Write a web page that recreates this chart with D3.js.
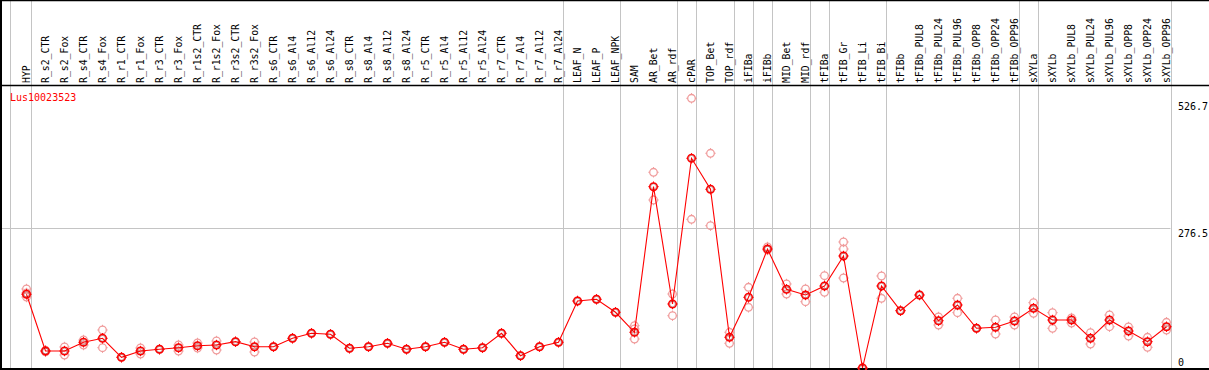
<!DOCTYPE html>
<html>
<head>
<meta charset="utf-8">
<script src="https://cdn.jsdelivr.net/npm/d3@7"></script>
<style>
  html, body { margin: 0; padding: 0; background: #fff; }
  svg { display: block; }
  text { font-family: "DejaVu Sans Mono", monospace; }
</style>
</head>
<body>
<svg id="chart" width="1209" height="370"></svg>
<script>
const title = "Lus10023523";
const categories = ["HYP","R_s2_CTR","R_s2_Fox","R_s4_CTR","R_s4_Fox","R_r1_CTR","R_r1_Fox","R_r3_CTR","R_r3_Fox","R_r1s2_CTR","R_r1s2_Fox","R_r3s2_CTR","R_r3s2_Fox","R_s6_CTR","R_s6_Al4","R_s6_Al12","R_s6_Al24","R_s8_CTR","R_s8_Al4","R_s8_Al12","R_s8_Al24","R_r5_CTR","R_r5_Al4","R_r5_Al12","R_r5_Al24","R_r7_CTR","R_r7_Al4","R_r7_Al12","R_r7_Al24","LEAF_N","LEAF_P","LEAF_NPK","SAM","AR_Bet","AR_rdf","cPAR","TOP_Bet","TOP_rdf","iFIBa","iFIBb","MID_Bet","MID_rdf","tFIBa","tFIB_Gr","tFIB_Li","tFIB_Bi","tFIBb","tFIBb_PUL8","tFIBb_PUL24","tFIBb_PUL96","tFIBb_OPP8","tFIBb_OPP24","tFIBb_OPP96","sXYLa","sXYLb","sXYLb_PUL8","sXYLb_PUL24","sXYLb_PUL96","sXYLb_OPP8","sXYLb_OPP24","sXYLb_OPP96"];
const means = [145.9,33.6,33.6,50.9,58.8,21.2,33.6,37.0,40.2,44.1,45.5,52.1,42.2,42.2,58.8,68.7,66.7,39.0,42.2,48.9,37.0,42.2,50.9,37.0,40.2,68.7,24.3,42.2,50.9,132.6,136.0,110.3,70.7,358.9,126.7,415.1,353.7,60.8,139.9,235.5,155.8,144.5,162.3,221.7,0,162.3,113.4,144.5,93.6,124.7,78.6,80.6,93.0,118.2,95.0,95.0,58.8,95.0,73.2,52.1,81.7];
const replicates = [[156.4,148.5,140.5],[35.0,32.0],[41.6,25.7],[55.4,45.5],[75.2,40.2],[21.2],[39.6,27.7],[37.0],[45.5,33.6],[49.5,39.6],[53.4,35.6],[52.1],[51.5,31.7],[42.2],[58.8],[68.7],[66.7],[39.0],[42.2],[48.9],[37.0],[42.2],[50.9],[37.0],[40.2],[68.7],[24.3],[42.2],[50.9],[132.6],[136.0],[110.3],[83.7,77.2,57.4],[387.4,332.5],[146.5,103.5],[533.8,294.3],[425.0,281.7],[70.7,48.9],[159.7,120.1],[239.5,233.6],[166.3,146.5],[156.4,131.2],[182.7,149.8],[249.4,235.5,178.1],[0],[182.1,138.0],[113.4],[144.5],[101.0,85.1],[138.0,109.5],[78.6],[95.0,67.3],[101.0,85.1],[129.3,108.3],[109.5,78.6],[99.0,89.1],[69.9,47.5],[104.9,81.7],[81.2,63.3],[60.8,41.0],[90.5,75.2]];
const yTicks = [0, 276.5, 526.7];
const separatorsAfter = [0,28,31,34,35,37,38,39,41,42,45,52,53,60];

const W = 1209, H = 370;
const headerBottom = 85.5, plotBottom = 368.5, plotRight = 1170.5;
const svg = d3.select("#chart");

const x = d3.scaleLinear().domain([0, categories.length - 1]).range([26.5, 26.5 + 19 * (categories.length - 1)]);
const y = d3.scaleLinear().domain([0, 526.7]).range([368, 101.9]);

// vertical separators
const sepX = [10.5].concat(separatorsAfter.map(i => Math.round(x(i) + 4) + 0.5));
svg.append("g").selectAll("line").data(sepX).join("line")
  .attr("x1", d => d).attr("x2", d => d).attr("y1", 0).attr("y2", H)
  .attr("stroke", "#c4c4c4").attr("stroke-width", 1);

// horizontal grid line at middle tick
svg.append("line")
  .attr("x1", 0).attr("x2", plotRight).attr("y1", Math.round(y(276.5)) + 0.5).attr("y2", Math.round(y(276.5)) + 0.5)
  .attr("stroke", "#c4c4c4").attr("stroke-width", 1);

// borders
svg.append("line").attr("x1", 0).attr("x2", W).attr("y1", 0.5).attr("y2", 0.5).attr("stroke", "#000").attr("stroke-width", 1.5);
svg.append("line").attr("x1", 0).attr("x2", W).attr("y1", headerBottom).attr("y2", headerBottom).attr("stroke", "#000").attr("stroke-width", 1.5);
svg.append("line").attr("x1", 0).attr("x2", W).attr("y1", plotBottom + 0.5).attr("y2", plotBottom + 0.5).attr("stroke", "#000").attr("stroke-width", 2);
svg.append("line").attr("x1", 1).attr("x2", 1).attr("y1", 0).attr("y2", H).attr("stroke", "#000").attr("stroke-width", 2);

// header labels
svg.append("g").selectAll("text").data(categories).join("text")
  .attr("transform", (d, i) => `translate(${x(i) + 3.5},83) rotate(-90)`)
  .attr("text-anchor", "start")
  .attr("font-size", "9.8px")
  .attr("fill", "#000")
  .text(d => d);

// right axis
const axis = d3.axisRight(y).tickValues(yTicks).tickSize(0).tickFormat(d => String(d));
const ag = svg.append("g").attr("transform", "translate(1178,0)").call(axis);
ag.select(".domain").remove();
ag.selectAll("text")
  .attr("x", 0)
  .attr("dy", null)
  .attr("dominant-baseline", "auto")
  .attr("y", d => d === 0 ? -2.5 : 8)
  .attr("font-family", "DejaVu Sans Mono, monospace")
  .attr("font-size", "10px")
  .attr("fill", "#000");

// title
svg.append("text").attr("x", 10).attr("y", 101).attr("font-size", "10px").attr("fill", "#ff0000").text(title);

function marker(g, cx, cy, color, sw) {
  g.append("circle").attr("cx", cx).attr("cy", cy).attr("r", 3.8).attr("fill", "none").attr("stroke", color).attr("stroke-width", sw);
  const t = [[0, -1], [0, 1], [-1, 0], [1, 0]];
  t.forEach(([dx, dy]) => {
    g.append("line")
      .attr("x1", cx + dx * 3.8).attr("y1", cy + dy * 3.8)
      .attr("x2", cx + dx * 5.2).attr("y2", cy + dy * 5.2)
      .attr("stroke", color).attr("stroke-width", 1);
  });
}

// replicates
const rg = svg.append("g");
replicates.forEach((reps, i) => reps.forEach(v => marker(rg, x(i), y(v), "#f09c9c", 1.3)));

// mean line
svg.append("path")
  .datum(means)
  .attr("d", d3.line().x((d, i) => x(i)).y(d => y(d)))
  .attr("fill", "none").attr("stroke", "#ff0000").attr("stroke-width", 1.1);

// mean markers
const mg = svg.append("g");
means.forEach((v, i) => {
  marker(mg, x(i), y(v), "#ff0000", 1.5);
  mg.append("circle").attr("cx", x(i)).attr("cy", y(v)).attr("r", 2.8).attr("fill", "none").attr("stroke", "#700").attr("stroke-width", 0.6).attr("stroke-opacity", 0.6);
});
</script>
</body>
</html>
